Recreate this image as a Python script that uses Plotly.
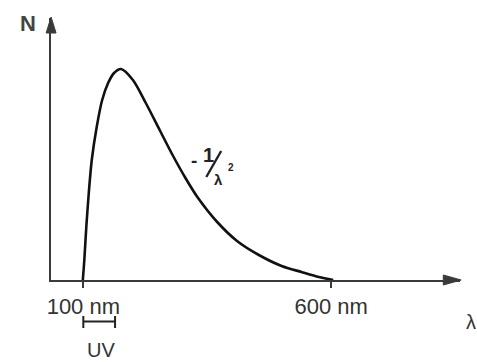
import plotly.graph_objects as go

# ---- data ----
wavelength_nm = [99, 102, 106, 111, 117, 127, 138, 150, 162, 176, 200, 226, 254, 280, 306, 330, 370, 410, 454, 500, 540, 575, 604]
N_values =      [0,  20,  53,  87,  120, 153, 180, 197, 207, 211, 200, 177, 150, 125, 102, 83,  58,  39,  25,  14,  8,   3,   0]
tick_vals = [100, 600]
tick_text = ["100 nm", "600 nm"]

W, H = 477, 362

def px(x):
    return x / W

def py(y):
    return 1 - y / H

# axis pixel geometry
X0, X1 = 47.5, 460
Y0, Y1 = 280, 18

fig = go.Figure()
fig.add_trace(go.Scatter(
    x=wavelength_nm, y=N_values, mode="lines",
    line=dict(color="#111111", width=2.6, shape="spline", smoothing=0.8),
    hoverinfo="skip", cliponaxis=False,
))

axis_color = "#3a3a3a"
fig.update_layout(
    width=W, height=H,
    margin=dict(l=0, r=0, t=0, b=0),
    paper_bgcolor="white", plot_bgcolor="white",
    showlegend=False,
    font=dict(family="Liberation Sans, Arial, sans-serif", color="#333333"),
    xaxis=dict(
        domain=[px(X0), px(X1)],
        range=[100 + (X0 - 80) * 2, 100 + (X1 - 80) * 2],
        showgrid=False, zeroline=False,
        showline=True, linecolor=axis_color, linewidth=2,
        tickmode="array", tickvals=tick_vals, ticktext=tick_text,
        ticks="outside", ticklen=6, tickwidth=1.5, tickcolor=axis_color,
        tickfont=dict(size=22, color="#333333"),
        anchor="y",
    ),
    yaxis=dict(
        domain=[py(Y0), py(Y1)],
        range=[0, Y0 - Y1],
        showgrid=False, zeroline=False,
        showline=True, linecolor=axis_color, linewidth=2,
        showticklabels=False, ticks="",
        anchor="x",
    ),
)

# arrowheads
fig.add_shape(type="path", xref="paper", yref="paper",
              path=f"M {px(47.5)} {py(17)} L {px(42.5)} {py(33)} L {px(52.5)} {py(33)} Z",
              fillcolor=axis_color, line=dict(color=axis_color, width=1))
fig.add_shape(type="path", xref="paper", yref="paper",
              path=f"M {px(461)} {py(280)} L {px(443)} {py(275)} L {px(443)} {py(285)} Z",
              fillcolor=axis_color, line=dict(color=axis_color, width=1))

# UV bracket
fig.add_shape(type="line", xref="paper", yref="paper",
              x0=px(80), x1=px(112), y0=py(321.5), y1=py(321.5),
              line=dict(color="#222222", width=2))
for xb in (80, 112):
    fig.add_shape(type="line", xref="paper", yref="paper",
                  x0=px(xb), x1=px(xb), y0=py(316), y1=py(328),
                  line=dict(color="#222222", width=2))

# slash of -1/lambda^2
fig.add_shape(type="line", xref="paper", yref="paper",
              x0=px(204), x1=px(219), y0=py(177), y1=py(151),
              line=dict(color="#222222", width=2.4))

def label(text, x, y, size, bold=False, color="#333333"):
    t = f"<b>{text}</b>" if bold else text
    fig.add_annotation(text=t, xref="paper", yref="paper", x=px(x), y=py(y),
                       xanchor="center", yanchor="middle", showarrow=False,
                       font=dict(size=size, color=color))

label("N", 24, 23, 22, bold=True, color="#444444")
label("λ", 471, 322, 20, color="#333333")
label("UV", 98, 350, 20, color="#333333")
label("-", 192, 161, 19, bold=True, color="#222222")
label("1", 206, 155, 20, bold=True, color="#222222")
label("λ", 216, 179, 15, bold=True, color="#222222")
label("2", 229, 167, 10, bold=True, color="#222222")

fig.write_html("out.html")
